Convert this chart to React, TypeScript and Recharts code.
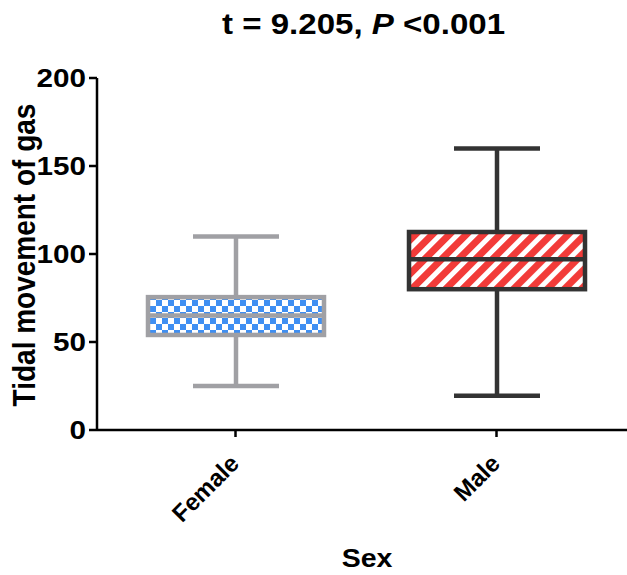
import React from "react";
import { ComposedChart, Bar, XAxis, YAxis, Label } from "recharts";

const categories = ["Female", "Male"];
const minVals = [25, 19.5];
const q1Vals = [54, 80];
const medianVals = [65, 97];
const q3Vals = [75.5, 112.5];
const maxVals = [110, 160];
const yTicks = [0, 50, 100, 150, 200];

const strokeColors = ["#a0a0a4", "#333333"];
const fillIds = ["url(#checkBlue)", "url(#stripeRed)"];

const data = categories.map((name, i) => ({
  name,
  min: minVals[i],
  q1: q1Vals[i],
  median: medianVals[i],
  q3: q3Vals[i],
  max: maxVals[i],
  range: [q1Vals[i], q3Vals[i]],
  stroke: strokeColors[i],
  fill: fillIds[i],
}));

const FONT = "'Liberation Sans', Arial, sans-serif";
// the original artwork is a little wider than tall
const SX = 1.14;

function BoxShape(props: any) {
  const { x, y, width, height, payload } = props;
  const top = Math.min(y, y + height);
  const h = Math.abs(height);
  const px = h / (payload.q3 - payload.q1);
  const toY = (v: number) => top + (payload.q3 - v) * px;
  const cx = x + width / 2;
  const cap = 43;
  const sw = 4.5;
  return (
    <g>
      <line x1={cx} x2={cx} y1={toY(payload.max)} y2={toY(payload.q3)} stroke={payload.stroke} strokeWidth={sw} />
      <line x1={cx} x2={cx} y1={toY(payload.q1)} y2={toY(payload.min)} stroke={payload.stroke} strokeWidth={sw} />
      <line x1={cx - cap} x2={cx + cap} y1={toY(payload.max)} y2={toY(payload.max)} stroke={payload.stroke} strokeWidth={sw} />
      <line x1={cx - cap} x2={cx + cap} y1={toY(payload.min)} y2={toY(payload.min)} stroke={payload.stroke} strokeWidth={sw} />
      <rect x={x} y={top} width={width} height={h} fill={payload.fill} stroke={payload.stroke} strokeWidth={sw} />
      <line x1={x} x2={x + width} y1={toY(payload.median)} y2={toY(payload.median)} stroke={payload.stroke} strokeWidth={sw} />
    </g>
  );
}

function XTick(props: any) {
  const { x, y, payload } = props;
  return (
    <text
      transform={`translate(${x + 5},${y + 26}) rotate(-45)`}
      textAnchor="end"
      fontFamily={FONT}
      fontWeight="bold"
      fontSize={24}
      fill="#000"
    >
      {payload.value}
    </text>
  );
}

function YTick(props: any) {
  const { x, y, payload } = props;
  return (
    <text
      transform={`translate(${x - 1},${y}) scale(${SX},1)`}
      textAnchor="end"
      dy="0.36em"
      fontFamily={FONT}
      fontWeight="bold"
      fontSize={26}
      fill="#000"
    >
      {payload.value}
    </text>
  );
}

export default function App() {
  return (
    <div style={{ position: "relative", width: 627, height: 575, background: "#fff" }}>
      <style>{`body{margin:0}`}</style>
      <div
        style={{
          position: "absolute",
          top: 8,
          left: 0,
          width: 727,
          textAlign: "center",
          fontFamily: FONT,
          fontWeight: "bold",
          fontSize: 29,
          color: "#000",
          lineHeight: "32px",
          transform: `scaleX(${SX})`,
          transformOrigin: "363px 0",
        }}
      >
        t = 9.205, <i>P</i> &lt;0.001
      </div>
      <ComposedChart width={627} height={575} data={data} margin={{ top: 78, right: 0, bottom: 45, left: 0 }}>
        <defs>
          <pattern id="checkBlue" width="12" height="12" patternUnits="userSpaceOnUse">
            <rect width="12" height="12" fill="#ffffff" />
            <rect x="0" y="0" width="6" height="6" fill="#3f8ff2" />
            <rect x="6" y="6" width="6" height="6" fill="#3f8ff2" />
          </pattern>
          <pattern id="stripeRed" width="12" height="12" patternUnits="userSpaceOnUse" patternTransform="rotate(45)">
            <rect width="12" height="12" fill="#ffffff" />
            <rect x="0" y="0" width="7" height="12" fill="#f23b39" />
          </pattern>
        </defs>
        <XAxis
          dataKey="name"
          height={100}
          padding={{ left: 8, right: 0 }}
          axisLine={{ stroke: "#000", strokeWidth: 2.5 }}
          tickLine={{ stroke: "#000", strokeWidth: 2.5 }}
          tickSize={7}
          tick={<XTick />}
          interval={0}
        >
          <Label
            content={() => (
              <text
                transform={`translate(367,567) scale(${SX},1)`}
                textAnchor="middle"
                fontFamily={FONT}
                fontWeight="bold"
                fontSize={25}
                fill="#000"
              >
                Sex
              </text>
            )}
          />
        </XAxis>
        <YAxis
          type="number"
          domain={[0, 200]}
          ticks={yTicks}
          width={97}
          axisLine={{ stroke: "#000", strokeWidth: 2.5 }}
          tickLine={{ stroke: "#000", strokeWidth: 2.5 }}
          tickSize={8}
          tick={<YTick />}
        >
          <Label
            content={() => (
              <text
                transform={`translate(35,255) scale(${SX},1) rotate(-90)`}
                textAnchor="middle"
                fontFamily={FONT}
                fontWeight="bold"
                fontSize={28}
                fill="#000"
              >
                Tidal movement of gas
              </text>
            )}
          />
        </YAxis>
        <Bar dataKey="range" barSize={176} shape={<BoxShape />} isAnimationActive={false} />
      </ComposedChart>
    </div>
  );
}
